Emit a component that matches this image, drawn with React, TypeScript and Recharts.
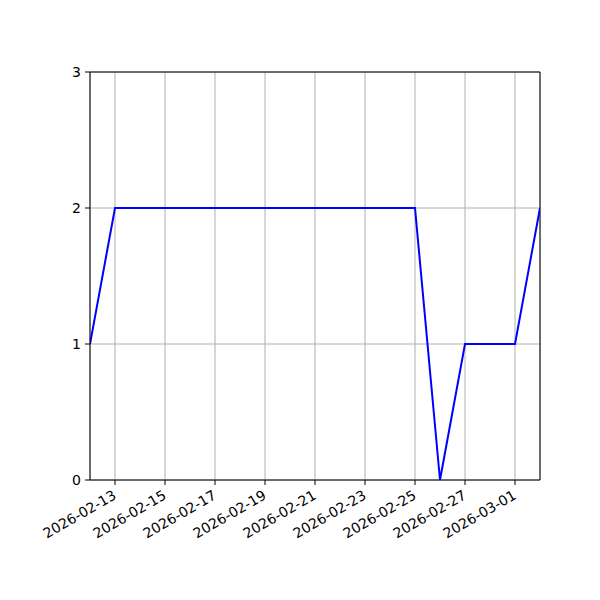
import { CartesianGrid, Line, LineChart, ReferenceLine, XAxis, YAxis } from 'recharts';

// one value per day, 2026-02-12 .. 2026-03-02
const dates = [
  '2026-02-12', '2026-02-13', '2026-02-14', '2026-02-15', '2026-02-16',
  '2026-02-17', '2026-02-18', '2026-02-19', '2026-02-20', '2026-02-21',
  '2026-02-22', '2026-02-23', '2026-02-24', '2026-02-25', '2026-02-26',
  '2026-02-27', '2026-02-28', '2026-03-01', '2026-03-02',
];
const values = [1, 2, 2, 2, 2, 2, 2, 2, 2, 2, 2, 2, 2, 2, 0, 1, 1, 1, 2];

const xTickLabels = [
  '2026-02-13', '2026-02-15', '2026-02-17', '2026-02-19', '2026-02-21',
  '2026-02-23', '2026-02-25', '2026-02-27', '2026-03-01',
];
const yTicks = [0, 1, 2, 3];

const toTime = (s: string) => Date.parse(s + 'T00:00:00Z');

const data = dates.map((d, i) => ({ t: toTime(d), v: values[i] }));
const START = toTime(dates[0]);
const END = toTime(dates[dates.length - 1]);
const xTicks = xTickLabels.map(toTime);

const FONT = 'DejaVu Sans, sans-serif';

function fmt(t: number) {
  return new Date(t).toISOString().slice(0, 10);
}

function DateTick({ x, y, payload }: any) {
  return (
    <text
      x={0}
      y={0}
      transform={`translate(${x - 3},${y + 2}) rotate(-30)`}
      textAnchor="end"
      dy="0.75em"
      fontSize={14}
      fontFamily={FONT}
      fill="#000"
    >
      {fmt(payload.value)}
    </text>
  );
}

export default function App() {
  return (
    <div style={{ position: 'absolute', left: 0, top: 0, width: 600, height: 600, background: '#fff' }}>
      <LineChart
        width={600}
        height={600}
        data={data}
        margin={{ top: 72, right: 60, bottom: 0, left: 0 }}
      >
        <CartesianGrid stroke="#b0b0b0" strokeWidth={1} />
        <XAxis
          dataKey="t"
          type="number"
          domain={[START, END]}
          ticks={xTicks}
          interval={0}
          height={120}
          tick={<DateTick />}
          tickSize={5}
          axisLine={{ stroke: '#000' }}
          tickLine={{ stroke: '#000' }}
          allowDataOverflow
        />
        <YAxis
          type="number"
          domain={[0, 3]}
          ticks={yTicks}
          width={90}
          tickSize={5}
          tickMargin={4}
          axisLine={{ stroke: '#000' }}
          tickLine={{ stroke: '#000' }}
          tick={{ fill: '#000', fontSize: 14, fontFamily: FONT }}
        />
        <ReferenceLine y={3} stroke="#000" strokeWidth={1} ifOverflow="extendDomain" />
        <ReferenceLine x={END} stroke="#000" strokeWidth={1} />
        <Line
          dataKey="v"
          stroke="#0000ff"
          strokeWidth={2}
          dot={false}
          activeDot={false}
          isAnimationActive={false}
        />
      </LineChart>
    </div>
  );
}
